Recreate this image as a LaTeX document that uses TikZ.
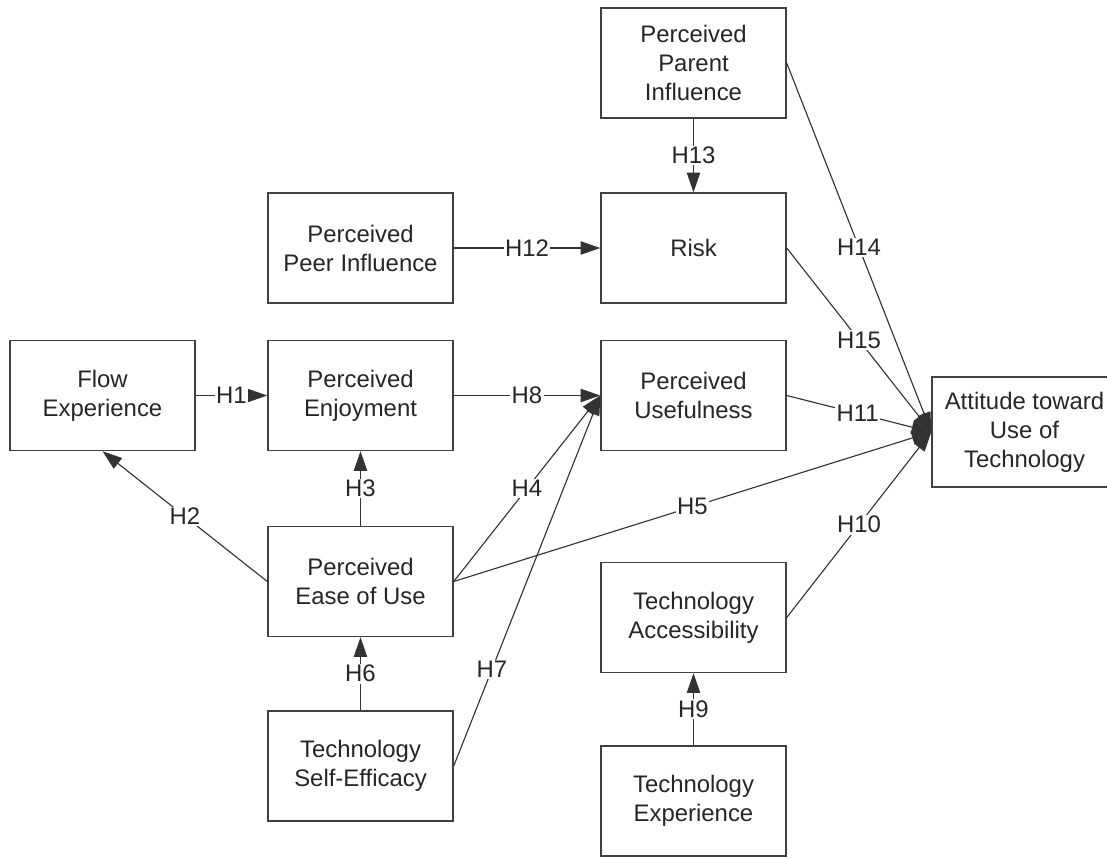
\documentclass[tikz,border=0pt]{standalone}
\usepackage{fontspec}
\setmainfont{Liberation Sans}
\usetikzlibrary{arrows.meta}
\newcommand{\diagfont}{\fontsize{17}{20.6}\selectfont}
\tikzset{
  box/.style={draw=black!75, line width=1pt, fill=white, minimum width=4.625cm, minimum height=2.75cm, align=center, text=black!85, font=\diagfont, inner sep=0pt},
  lab/.style={fill=white, inner sep=1pt, text=black!85, font=\diagfont},
  conn/.style={draw=black!80, line width=0.8pt},
  arr/.style={conn, -{Triangle[length=14pt,width=9.5pt]}},
}
\begin{document}
\begin{tikzpicture}[x=0.025cm, y=-0.025cm]
\fill[white] (0,0) rectangle (1107,858);
\useasboundingbox (0,0) rectangle (1107,858);
% boxes
\node[box] (parent) at (693.5,63) {Perceived\\Parent\\Influence};
\node[box] (peer) at (360.5,248) {Perceived\\Peer Influence};
\node[box] (risk) at (693.5,248) {Risk};
\node[box] (flow) at (102.5,395.5) {Flow\\Experience};
\node[box] (enjoy) at (360.5,395.5) {Perceived\\Enjoyment};
\node[box] (useful) at (693.5,395.5) {Perceived\\Usefulness};
\node[box] (att) at (1024.5,432) {Attitude toward\\Use of\\Technology};
\node[box] (ease) at (360.5,581.5) {Perceived\\Ease of Use};
\node[box] (access) at (693.5,617.5) {Technology\\Accessibility};
\node[box] (selfeff) at (360.5,766) {Technology\\Self-Efficacy};
\node[box] (techexp) at (693.5,801) {Technology\\Experience};
% connectors
\draw[arr] (flow) -- node[lab]{H1} (enjoy);
\draw[arr] (ease.west) -- node[lab]{H2} (flow.south);
\draw[arr] (ease) -- node[lab]{H3} (enjoy);
\draw[arr] (ease.east) -- node[lab]{H4} (useful.west);
\draw[arr] (ease.east) -- node[lab]{H5} (att.west);
\draw[arr] (selfeff) -- node[lab]{H6} (ease);
\draw[arr] (selfeff.east) -- node[lab,pos=0.26]{H7} (useful.west);
\draw[arr] (enjoy) -- node[lab]{H8} (useful);
\draw[arr] (techexp) -- node[lab]{H9} (access);
\draw[arr] (access.east) -- node[lab]{H10} (att.west);
\draw[arr] (useful.east) -- node[lab,pos=0.49]{H11} (att.west);
\draw[arr] (peer) -- node[lab]{H12} (risk);
\draw[arr] (parent) -- node[lab]{H13} (risk);
\draw[arr] (parent.east) -- node[lab]{H14} (att.west);
\draw[arr] (risk.east) -- node[lab]{H15} (att.west);
\end{tikzpicture}
\end{document}
